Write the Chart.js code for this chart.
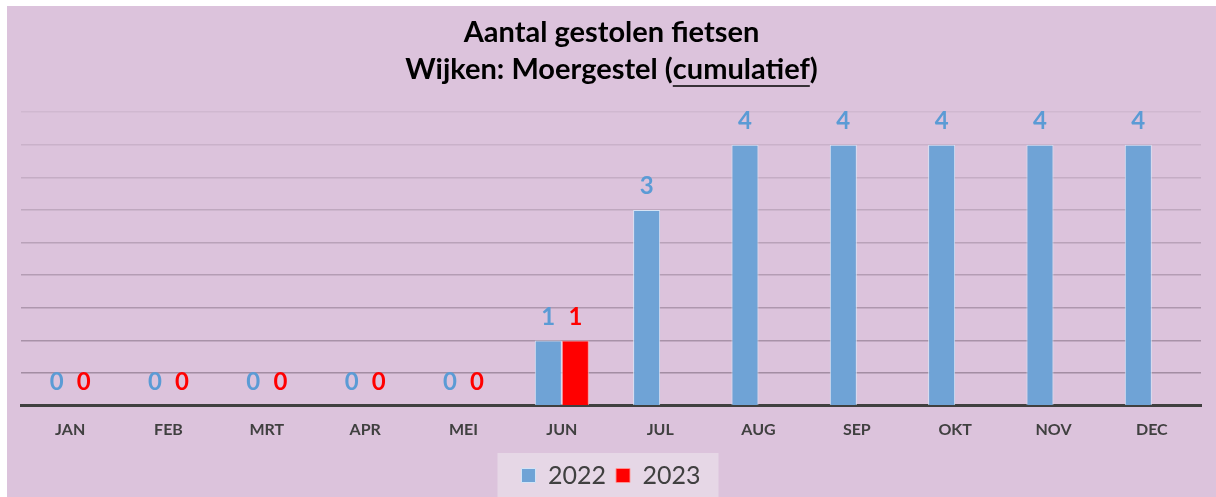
<!DOCTYPE html>
<html>
<head>
<meta charset="utf-8">
<script src="https://cdn.jsdelivr.net/npm/chart.js@4.4.0/dist/chart.umd.min.js"></script>
<style>
  html, body { margin: 0; padding: 0; background: #ffffff; }
  #wrap { position: absolute; left: 7px; top: 6px; width: 1209px; height: 491px; }
</style>
</head>
<body>
<div id="wrap"><canvas id="c" width="1209" height="491"></canvas></div>
<script>
const categories = ['JAN','FEB','MRT','APR','MEI','JUN','JUL','AUG','SEP','OKT','NOV','DEC'];
const series2022 = [0,0,0,0,0,1,3,4,4,4,4,4];
const series2023 = [0,0,0,0,0,1,null,null,null,null,null,null];
const seriesNames = ['2022','2023'];
const titleLine1 = 'Aantal gestolen fietsen';
const titleLine2Pre = 'Wijken: Moergestel (';
const titleLine2Under = 'cumulatief';
const titleLine2Post = ')';

const BG = '#dcc3dc';
const FONT = 'Lato, "Open Sans", sans-serif';

const bgPlugin = {
  id: 'bg',
  beforeDraw(chart) {
    const ctx = chart.ctx;
    ctx.save();
    ctx.fillStyle = BG;
    ctx.fillRect(0, 0, chart.width, chart.height);
    const lg = chart.legend;
    if (lg && lg.legendHitBoxes && lg.legendHitBoxes.length) {
      let l = Infinity, r = -Infinity;
      lg.legendHitBoxes.forEach(b => { l = Math.min(l, b.left); r = Math.max(r, b.left + b.width); });
      ctx.fillStyle = '#e6d7e6';
      ctx.fillRect(l - 24, 447, (r - l) + 42, chart.height - 447);
    }
    ctx.restore();
  }
};

const titlePlugin = {
  id: 'customTitle',
  afterDraw(chart) {
    const ctx = chart.ctx;
    ctx.save();
    ctx.fillStyle = '#000000';
    ctx.font = 'bold 29px ' + FONT;
    ctx.textBaseline = 'middle';
    ctx.textAlign = 'left';
    const cx = chart.width / 2;
    const w1 = ctx.measureText(titleLine1).width;
    ctx.fillText(titleLine1, cx - w1 / 2, 27);
    const wPre = ctx.measureText(titleLine2Pre).width;
    const wUn = ctx.measureText(titleLine2Under).width;
    const wPost = ctx.measureText(titleLine2Post).width;
    const tot = wPre + wUn + wPost;
    const x = cx - tot / 2;
    const y = 64;
    ctx.fillText(titleLine2Pre, x, y);
    ctx.fillText(titleLine2Under, x + wPre, y);
    ctx.fillText(titleLine2Post, x + wPre + wUn, y);
    ctx.strokeStyle = '#000000';
    ctx.lineWidth = 1.6;
    ctx.beginPath();
    ctx.moveTo(x + wPre, y + 16);
    ctx.lineTo(x + wPre + wUn, y + 16);
    ctx.stroke();
    ctx.restore();
  }
};

const labelPlugin = {
  id: 'valueLabels',
  afterDatasetsDraw(chart) {
    const ctx = chart.ctx;
    ctx.save();
    ctx.font = 'bold 24px ' + FONT;
    ctx.textAlign = 'center';
    ctx.textBaseline = 'alphabetic';
    chart.data.datasets.forEach((ds, i) => {
      const meta = chart.getDatasetMeta(i);
      ctx.fillStyle = ds.labelColor;
      meta.data.forEach((bar, j) => {
        const v = ds.data[j];
        if (v === null || v === undefined) return;
        ctx.fillText(String(v), bar.x, bar.y - 16);
      });
    });
    ctx.restore();
  }
};

new Chart(document.getElementById('c'), {
  type: 'bar',
  data: {
    labels: categories,
    datasets: [
      {
        label: seriesNames[0],
        data: series2022,
        backgroundColor: '#6fa3d6',
        borderColor: 'rgba(215,232,248,0.9)',
        borderWidth: 1,
        labelColor: '#5b9bd5'
      },
      {
        label: seriesNames[1],
        data: series2023,
        backgroundColor: '#ff0000',
        borderColor: 'rgba(255,150,150,0.9)',
        borderWidth: 1,
        labelColor: '#ff0000'
      }
    ]
  },
  options: {
    responsive: false,
    animation: false,
    devicePixelRatio: 1,
    layout: { padding: { left: 14, right: 15, top: 106, bottom: -1 } },
    datasets: { bar: { categoryPercentage: 0.55, barPercentage: 1 } },
    plugins: {
      title: { display: false },
      tooltip: { enabled: false },
      legend: {
        position: 'bottom',
        labels: {
          boxWidth: 14,
          boxHeight: 14,
          padding: 10,
          color: '#404040',
          font: { family: FONT, size: 25 }
        }
      }
    },
    scales: {
      x: {
        grid: { display: false, drawTicks: false },
        border: { display: true, color: '#404040', width: 3 },
        ticks: { color: '#404040', padding: 14, font: { family: FONT, size: 16, weight: 'bold' } }
      },
      y: {
        min: 0,
        max: 4.5,
        afterFit(scale) { scale.width = 0; },
        ticks: { display: false, stepSize: 0.5 },
        border: { display: false },
        grid: {
          drawTicks: false,
          lineWidth: 1.5,
          color(ctx) {
            const v = ctx.tick ? ctx.tick.value : 0;
            const a = Math.max(0.08, 0.6 - v * 0.11);
            return 'rgba(115,95,115,' + a.toFixed(3) + ')';
          }
        }
      }
    }
  },
  plugins: [bgPlugin, titlePlugin, labelPlugin]
});
</script>
</body>
</html>
